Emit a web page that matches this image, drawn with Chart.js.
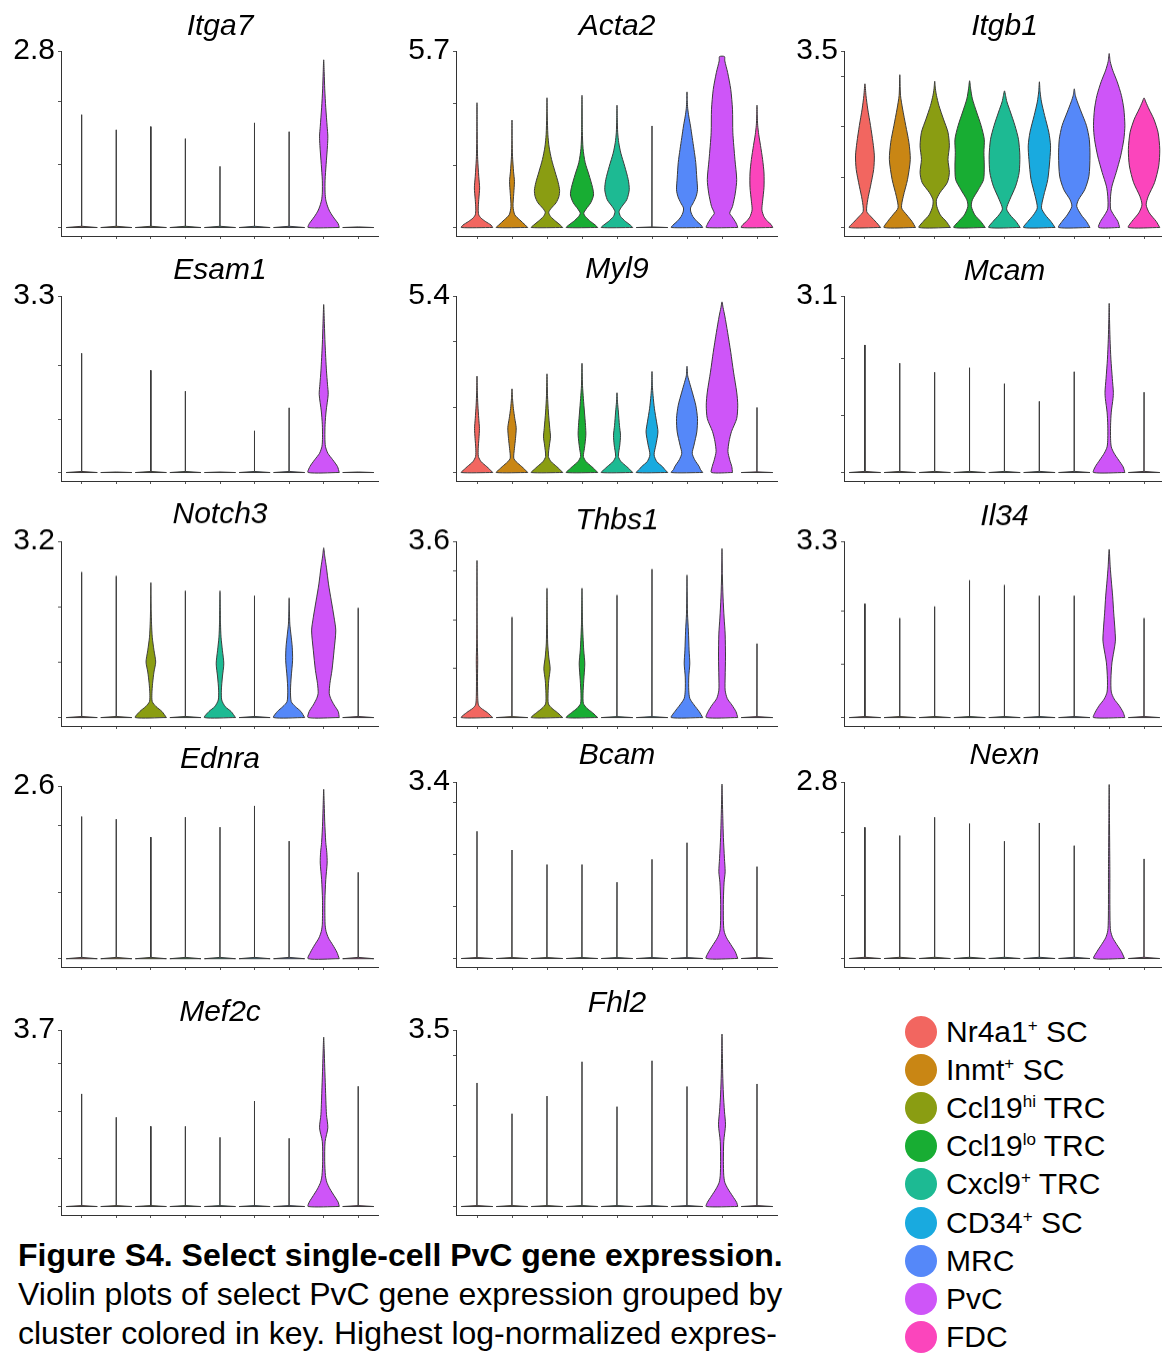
<!DOCTYPE html>
<html>
<head>
<meta charset="utf-8">
<script src="https://cdn.jsdelivr.net/npm/chart.js@4.4.1/dist/chart.umd.min.js"></script>
<style>
  html, body { margin: 0; padding: 0; background: #fff; }
  body { width: 1162px; height: 1357px; position: relative; overflow: hidden;
         font-family: 'Liberation Sans', Arial, sans-serif; color: #000; }
  canvas { position: absolute; }
  #legend { position: absolute; left: 905px; top: 1013px; }
  .key { display: flex; align-items: center; height: 38.1px; font-size: 30px; line-height: 38px; white-space: nowrap; }
  .dot { width: 32px; height: 32px; border-radius: 50%; margin-right: 9px; flex: none; }
  .key sup { font-size: 17px; line-height: 0; vertical-align: 11px; }
  #caption { position: absolute; left: 18px; top: 1236px; font-size: 32px; line-height: 39px; white-space: nowrap; }
</style>
</head>
<body>
<div id="legend"></div>
<div id="caption"><b>Figure S4. Select single-cell PvC gene expression.</b><br>Violin plots of select PvC gene expression grouped by<br>cluster colored in key. Highest log-normalized expres-</div>
<script>
// clusters (x order in every panel)
const clusterNames = ['Nr4a1', 'Inmt', 'Ccl19', 'Ccl19', 'Cxcl9', 'CD34', 'MRC', 'PvC', 'FDC'];
const clusterMarks = ['+', '+', 'hi', 'lo', '+', '+', '', '', ''];
const clusterSuffix = [' SC', ' SC', ' TRC', ' TRC', ' TRC', ' SC', '', '', ''];
const clusterColors = ['#F26660', '#C98614', '#8A9D12', '#18AD33', '#1DBA93', '#19AADF', '#5588F9', '#CE55F8', '#FB45BC'];

const genes = ['Itga7', 'Acta2', 'Itgb1', 'Esam1', 'Myl9', 'Mcam', 'Notch3', 'Thbs1', 'Il34', 'Ednra', 'Bcam', 'Nexn', 'Mef2c', 'Fhl2'];
const yTopLabels = ['2.8', '5.7', '3.5', '3.3', '5.4', '3.1', '3.2', '3.6', '3.3', '2.6', '3.4', '2.8', '3.7', '3.5'];

// one entry per cluster: a number = max of a cluster that is nearly all zero,
// a list = violin outline as [expression, half width]
const itga7 = [1.79, 1.55, 1.60, 1.41, 0.97, 1.66, 1.52,
  [[0,.45],[.06,.42],[.12,.34],[.18,.26],[.26,.17],[.34,.11],[.44,.06],[.55,.04],[.75,.04],[1.0,.07],[1.3,.11],[1.45,.12],[1.6,.1],[1.9,.06],[2.2,.03],[2.45,.015],[2.66,0]],
  0];

const acta2 = [
  [[0,.45],[.08,.4],[.19,.25],[.3,.12],[.41,.05],[.6,.035],[.9,.05],[1.28,.075],[1.65,.05],[2.2,.02],[2.6,.01],[3.1,.005],[4.03,0]],
  [[0,.45],[.08,.38],[.25,.22],[.41,.08],[.68,.03],[1.1,.05],[1.49,.07],[1.8,.045],[2.3,.015],[2.8,.005],[3.47,0]],
  [[0,.45],[.08,.38],[.2,.25],[.36,.1],[.49,.05],[.62,.12],[.8,.26],[1.0,.34],[1.2,.36],[1.45,.32],[1.8,.23],[2.2,.13],[2.6,.06],[3.0,.025],[3.6,.008],[4.19,0]],
  [[0,.45],[.08,.38],[.19,.25],[.35,.1],[.46,.05],[.6,.12],[.8,.25],[1.05,.33],[1.3,.3],[1.7,.2],[2.1,.09],[2.55,.03],[3.1,.01],[4.27,0]],
  [[0,.45],[.08,.38],[.19,.25],[.36,.1],[.52,.06],[.68,.14],[.9,.28],[1.22,.35],[1.55,.32],[1.98,.22],[2.4,.11],[2.74,.05],[3.06,.02],[3.5,.008],[3.95,0]],
  3.28,
  [[0,.45],[.08,.4],[.2,.28],[.35,.17],[.5,.11],[.63,.1],[.8,.18],[1.0,.26],[1.22,.3],[1.6,.28],[2.1,.25],[2.52,.2],[2.9,.15],[3.28,.1],[3.6,.05],[3.85,.02],[4.1,.008],[4.38,0]],
  [[0,.45],[.1,.42],[.19,.38],[.36,.28],[.46,.22],[.68,.3],[1.11,.38],[1.55,.42],[2.19,.37],[3.06,.31],[3.82,.3],[4.46,.25],[5.01,.16],[5.38,.08],[5.52,.07]],
  [[0,.45],[.1,.4],[.2,.3],[.35,.2],[.57,.14],[.85,.16],[1.3,.2],[1.76,.2],[2.2,.16],[2.65,.1],[3.0,.05],[3.3,.02],[3.6,.008],[3.95,0]]
];

const itgb1 = [
  [[0,.45],[.1,.33],[.21,.18],[.32,.05],[.55,.08],[.82,.16],[1.15,.25],[1.42,.27],[1.69,.23],[2.02,.16],[2.35,.08],[2.62,.03],[2.85,0]],
  [[0,.45],[.12,.35],[.25,.2],[.39,.05],[.62,.1],[.95,.22],[1.35,.3],[1.69,.26],[2.02,.17],[2.35,.08],[2.62,.02],[3.03,0]],
  [[0,.45],[.12,.33],[.25,.16],[.42,.06],[.55,.05],[.69,.15],[.89,.36],[1.09,.42],[1.35,.38],[1.62,.42],[1.89,.38],[2.15,.25],[2.42,.12],[2.62,.05],[2.75,.02],[2.9,0]],
  [[0,.45],[.12,.32],[.25,.15],[.42,.05],[.55,.08],[.75,.25],[.95,.4],[1.22,.42],[1.49,.41],[1.75,.42],[2.02,.33],[2.29,.2],[2.55,.08],[2.75,.03],[2.91,0]],
  [[0,.45],[.12,.33],[.25,.16],[.37,.06],[.55,.15],[.82,.32],[1.09,.42],[1.42,.44],[1.75,.4],[2.02,.3],[2.29,.17],[2.49,.07],[2.62,.03],[2.71,0]],
  [[0,.45],[.12,.33],[.25,.17],[.39,.06],[.62,.12],[.95,.24],[1.35,.3],[1.62,.32],[1.89,.27],[2.22,.15],[2.49,.06],[2.69,.02],[2.89,0]],
  [[0,.45],[.12,.35],[.25,.2],[.42,.07],[.55,.12],[.75,.3],[1.02,.42],[1.42,.45],[1.75,.43],[2.02,.35],[2.29,.2],[2.49,.09],[2.62,.03],[2.75,0]],
  [[0,.3],[.12,.25],[.25,.13],[.37,.04],[.62,.04],[.82,.08],[1.09,.2],[1.42,.33],[1.75,.42],[2.02,.45],[2.35,.42],[2.62,.35],[2.89,.23],[3.12,.1],[3.29,.03],[3.45,0]],
  [[0,.45],[.12,.35],[.29,.15],[.45,.06],[.62,.12],[.89,.3],[1.22,.42],[1.55,.45],[1.89,.4],[2.15,.28],[2.35,.14],[2.49,.05],[2.57,0]]
];

const esam1 = [2.23, 0, 1.91, 1.52, 0, 0.78, 1.21,
  [[0,.45],[.11,.4],[.24,.26],[.36,.12],[.49,.05],[.65,.035],[.9,.04],[1.15,.07],[1.46,.13],[1.65,.11],[1.9,.08],[2.4,.04],[2.78,.02],[3.14,0]],
  0];

const myl9 = [
  [[0,.45],[.1,.36],[.18,.28],[.33,.12],[.49,.04],[.74,.035],[1.04,.055],[1.35,.07],[1.65,.05],[2.06,.025],[2.46,.01],[2.95,0]],
  [[0,.45],[.1,.36],[.18,.28],[.33,.12],[.44,.05],[.74,.07],[1.04,.1],[1.37,.12],[1.65,.08],[1.96,.04],[2.26,.015],[2.56,0]],
  [[0,.45],[.1,.36],[.18,.28],[.33,.12],[.49,.04],[.84,.07],[1.09,.1],[1.34,.08],[1.85,.04],[2.35,.015],[3.02,0]],
  [[0,.45],[.1,.36],[.18,.28],[.33,.12],[.49,.04],[.74,.07],[1.14,.11],[1.44,.1],[1.85,.07],[2.26,.04],[2.66,.015],[3.34,0]],
  [[0,.45],[.1,.36],[.18,.28],[.33,.12],[.49,.04],[.84,.08],[1.14,.1],[1.44,.07],[1.85,.04],[2.15,.015],[2.44,0]],
  [[0,.45],[.1,.36],[.18,.3],[.33,.14],[.54,.06],[.84,.11],[1.24,.17],[1.55,.13],[1.95,.07],[2.36,.03],[2.66,.01],[3.09,0]],
  [[0,.45],[.1,.38],[.18,.35],[.39,.22],[.59,.15],[.84,.2],[1.24,.28],[1.65,.3],[2.06,.25],[2.46,.15],[2.76,.07],[2.96,.02],[3.25,0]],
  [[0,.3],[.18,.28],[.39,.22],[.64,.17],[.94,.2],[1.25,.27],[1.65,.42],[2.06,.45],[2.46,.42],[3.07,.33],[3.68,.25],[4.29,.16],[4.79,.08],[5.05,.03],[5.22,0]],
  1.99
];

const mcam = [2.24, 1.92, 1.76, 1.84, 1.56, 1.25, 1.77,
  [[0,.45],[.1,.4],[.22,.27],[.34,.14],[.45,.06],[.6,.04],[.83,.04],[1.06,.06],[1.3,.11],[1.41,.12],[1.65,.09],[1.99,.05],[2.34,.025],[2.69,.01],[2.97,0]],
  1.41];

const notch3 = [2.64, 2.57,
  [[0,.45],[.11,.32],[.2,.15],[.29,.04],[.44,.03],[.62,.05],[.83,.09],[1.01,.14],[1.22,.09],[1.46,.04],[1.7,.02],[1.94,.01],[2.45,0]],
  2.3,
  [[0,.45],[.11,.32],[.2,.15],[.32,.05],[.5,.04],[.74,.07],[.98,.11],[1.22,.07],[1.46,.03],[1.7,.015],[2.3,0]],
  2.21,
  [[0,.45],[.11,.34],[.2,.18],[.29,.06],[.5,.04],[.74,.06],[1.04,.1],[1.28,.09],[1.52,.05],[1.7,.02],[1.94,.008],[2.17,0]],
  [[0,.45],[.11,.42],[.23,.3],[.35,.2],[.44,.16],[.62,.18],[.86,.24],[1.22,.3],[1.58,.35],[1.82,.3],[2.12,.22],[2.42,.14],[2.72,.08],[2.93,.03],[3.08,0]],
  1.99];

const thbs1 = [
  [[0,.45],[.1,.3],[.19,.12],[.26,.04],[.43,.02],[.83,.015],[1.17,.02],[1.51,.01],[1.91,.005],[3.21,0]],
  2.05,
  [[0,.45],[.1,.3],[.19,.14],[.28,.04],[.49,.03],[.76,.05],[1.0,.09],[1.24,.05],[1.51,.02],[1.91,.01],[2.64,0]],
  [[0,.45],[.1,.3],[.19,.14],[.29,.04],[.49,.03],[.76,.05],[1.1,.08],[1.37,.05],[1.64,.03],[1.91,.015],[2.64,0]],
  2.5, 3.03,
  [[0,.45],[.12,.35],[.26,.2],[.39,.08],[.56,.05],[.83,.05],[1.1,.08],[1.37,.06],[1.77,.04],[2.11,.015],[2.58,.005],[2.91,0]],
  [[0,.45],[.12,.4],[.26,.28],[.39,.15],[.56,.09],[.83,.09],[1.24,.1],[1.71,.09],[2.04,.06],[2.45,.03],[2.93,.01],[3.45,0]],
  1.51];

const il34 = [2.13, 1.86, 2.08, 2.57, 2.48, 2.28, 2.28,
  [[0,.45],[.1,.4],[.23,.28],[.35,.14],[.48,.06],[.72,.05],[1.03,.08],[1.34,.16],[1.46,.18],[1.7,.16],[1.96,.13],[2.27,.1],[2.57,.06],[2.82,.03],[3.15,0]],
  1.86];

const ednra = [2.14, 2.1, 1.83, 2.13, 1.98, 2.3, 1.77,
  [[0,.45],[.1,.38],[.21,.26],[.31,.14],[.41,.07],[.52,.04],[.88,.035],[1.19,.06],[1.44,.1],[1.6,.09],[1.75,.06],[2.06,.03],[2.32,.015],[2.55,0]],
  1.3];

const bcam = [2.45, 2.09, 1.81, 1.81, 1.47, 1.91, 2.23,
  [[0,.45],[.13,.38],[.27,.25],[.4,.13],[.53,.06],[.73,.04],[1.13,.04],[1.47,.06],[1.67,.09],[1.93,.07],[2.33,.04],[2.8,.02],[3.13,.008],[3.36,0]],
  1.77];

const nexn = [2.08, 1.95, 2.24, 2.14, 1.86, 2.15, 1.79,
  [[0,.44],[.11,.35],[.22,.22],[.33,.1],[.44,.04],[.6,.025],[.93,.02],[1.37,.02],[1.76,.015],[2.14,.01],[2.58,.005],[2.76,0]],
  1.58];

const mef2c = [2.36, 1.87, 1.68, 1.68, 1.45, 2.21, 1.43,
  [[0,.45],[.09,.42],[.23,.3],[.37,.18],[.51,.09],[.65,.05],[.94,.03],[1.36,.04],[1.65,.12],[1.93,.08],[2.5,.05],[2.92,.03],[3.28,.015],[3.55,0]],
  2.52];

const fhl2 = [2.45, 1.84, 2.19, 2.87, 1.98, 2.89, 2.38,
  [[0,.45],[.08,.42],[.21,.3],[.35,.17],[.48,.08],[.62,.05],[.89,.04],[1.29,.05],[1.62,.1],[1.89,.07],[2.23,.04],[2.63,.02],[3.03,.01],[3.42,0]],
  2.43];

const violinsByGene = [itga7, acta2, itgb1, esam1, myl9, mcam, notch3, thbs1, il34, ednra, bcam, nexn, mef2c, fhl2];

// page layout of the panels, in pixels
const colLeft = [0, 392, 782];
const colAxis = [61, 456, 844];
const colRight = [379, 778, 1165];
const titleY = [27, 27, 27, 271, 270, 272, 515, 521, 517, 760, 756, 756, 1013, 1004];
const axisTop = [51, 51, 51, 296, 296, 296, 541, 541, 541, 786, 782, 782, 1030, 1030];
const axisBottom = [236, 236, 236, 481, 481, 481, 725.5, 725.5, 725.5, 967, 967, 967, 1215, 1215];

Chart.defaults.font.family = "'Liberation Sans', Arial, sans-serif";

// closed outline: right edge going up, left edge coming back down
function violinPoints(center, shape) {
  let profile = shape;
  if (!Array.isArray(shape)) {
    profile = shape > 0 ? [[0, 0.45], [0.02, 0.004], [shape, 0]] : [[0, 0.45], [0.01, 0]];
  }
  const right = profile.map(([y, w]) => ({ x: center + w, y }));
  const left = profile.slice().reverse()
    .filter(([y, w], i) => !(i === 0 && w === 0))
    .map(([y, w]) => ({ x: center - w, y }));
  return right.concat(left, [right[0]]);
}

function drawPanel(i) {
  const col = i % 3;
  const top = axisTop[i] - 60;
  const width = colRight[col] - colLeft[col];
  const height = axisBottom[i] - top + 4;

  const canvas = document.createElement('canvas');
  canvas.width = width;
  canvas.height = height;
  canvas.style.left = colLeft[col] + 'px';
  canvas.style.top = top + 'px';
  canvas.style.width = width + 'px';
  canvas.style.height = height + 'px';
  document.body.appendChild(canvas);

  const yMax = parseFloat(yTopLabels[i]);
  const step = yMax >= 5 ? 2 : 1;
  const yTicks = [];
  for (let v = 0; v < yMax - 0.3; v += step) yTicks.push(v);
  yTicks.push(yMax);

  const tickGrid = { display: true, drawOnChartArea: false, drawTicks: true, tickLength: 3, color: '#555', lineWidth: 1 };
  const axisLine = { display: true, color: '#333', width: 1 };

  new Chart(canvas, {
    type: 'scatter',
    data: {
      datasets: violinsByGene[i].map((shape, k) => ({
        data: violinPoints(k + 1, shape),
        showLine: true,
        fill: 'shape',
        backgroundColor: clusterColors[k],
        borderColor: '#3a3a3a',
        borderWidth: 1,
        pointRadius: 0,
        pointHoverRadius: 0,
        tension: Array.isArray(shape) ? 0.25 : 0
      }))
    },
    options: {
      responsive: false,
      animation: false,
      events: [],
      layout: { padding: 0 },
      plugins: {
        legend: { display: false },
        tooltip: { enabled: false },
        title: {
          display: true,
          text: genes[i],
          fullSize: false,
          color: '#000',
          font: { size: 30, style: 'italic', weight: 'normal', lineHeight: 1 },
          padding: { top: titleY[i] - 15 - top, bottom: axisTop[i] - titleY[i] - 15 }
        }
      },
      scales: {
        x: {
          type: 'linear',
          min: 0.4,
          max: 9.6,
          ticks: { display: false },
          grid: tickGrid,
          border: axisLine,
          afterBuildTicks: s => { s.ticks = clusterNames.map((n, k) => ({ value: k + 1 })); },
          afterFit: s => { s.height = 4; }
        },
        y: {
          min: -0.048 * yMax,
          max: yMax,
          ticks: {
            autoSkip: false,
            padding: 3,
            color: '#000',
            font: { size: 30 },
            callback: v => (v === yMax ? yTopLabels[i] : '')
          },
          grid: tickGrid,
          border: axisLine,
          afterBuildTicks: s => { s.ticks = yTicks.map(v => ({ value: v })); },
          afterFit: s => {
            s.width = colAxis[col] - colLeft[col];
            s.paddingBottom = 0;
          }
        }
      }
    }
  });
}

genes.forEach((g, i) => drawPanel(i));

// key
const legend = document.getElementById('legend');
clusterNames.forEach((name, k) => {
  const row = document.createElement('div');
  row.className = 'key';
  const dot = document.createElement('span');
  dot.className = 'dot';
  dot.style.background = clusterColors[k];
  row.appendChild(dot);
  const label = document.createElement('span');
  label.appendChild(document.createTextNode(name));
  if (clusterMarks[k]) {
    const sup = document.createElement('sup');
    sup.textContent = clusterMarks[k];
    label.appendChild(sup);
  }
  label.appendChild(document.createTextNode(clusterSuffix[k]));
  row.appendChild(label);
  legend.appendChild(row);
});
</script>
</body>
</html>
